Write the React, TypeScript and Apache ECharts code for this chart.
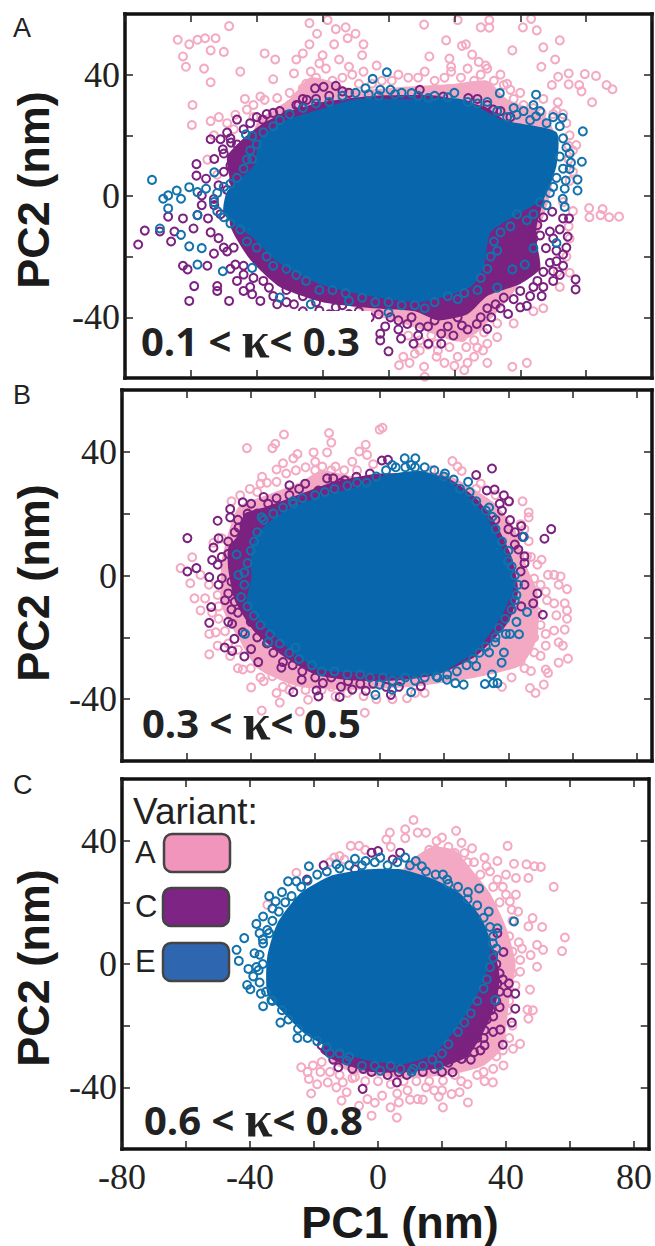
import React, { useEffect, useRef } from "react";
import * as echarts from "echarts";

type P = number[];

const xTicks = [-80, -60, -40, -20, 0, 20, 40, 60, 80];
const xLabels = [-80, -40, 0, 40, 80];
const yTicks = [-40, -20, 0, 20, 40];
const yLabels = [-40, 0, 40];
const kappaLabels = [["0.1", "0.3"], ["0.3", "0.5"], ["0.6", "0.8"]];
const panelLetters = ["A", "B", "C"];
const variants = ["A", "C", "E"];

const coreA_A: P[] = [[-40,24],[-30,32],[-24,39],[-18,38],[-10,35],[5,36],[20,37],[30,38],[36,32],[47,27],[51,19],[49,0],[39,-30],[27,-45],[21,-48],[10,-44],[-10,-37],[-30,-25],[-45,0]];
const coreA_C: P[] = [[-48,4],[-49,13],[-44,19],[-38,24],[-30,28],[-20,31],[-5,33],[15,33],[30,29],[40,20],[48,5],[45,-10],[45,-15],[46,-24],[40,-29],[30,-33],[24,-39],[15,-41],[8,-38],[-5,-37],[-20,-35],[-33,-30],[-42,-21],[-48,-10]];
const coreA_E: P[] = [[-50,-6],[-49,1.5],[-41,10],[-39,19],[-31,25],[-21,28.5],[-10,32],[5,32],[22,32],[35,25],[51,21],[51,10],[47,-1],[41,-5],[31,-12],[29,-23],[25,-30],[10,-35],[-6,-33],[-21,-29],[-34,-21.5],[-41,-14]];
const ringsA_A: P[] = [[-64,51.5],[-60.5,50],[-58,51.5],[-55.7,52],[-52.5,52],[-48.4,56],[-62.4,46],[-61.5,42.6],[-56,42],[-54,48],[-50,47.5],[-45,41],[-54,37.5],[-37.6,47],[-34.4,45],[-35,38.5],[-24,57],[-18.5,58],[-16,55],[-13,55.6],[-21.7,53.5],[-10,53.5],[-12.4,52],[-24,50],[-16.5,50],[-7.6,50],[-26,47],[-20,46.4],[-8,46.4],[-28,45],[-15,45],[-21,43.7],[-12,42.6],[-7.6,41],[-3.6,43],[-28.7,40.4],[-23.6,41],[10.8,56.5],[21,58],[30.6,58],[28,55.6],[30.6,55.5],[40.8,55.6],[43.3,58.4],[45,54.6],[17.5,51.3],[22.3,49.5],[23.5,50],[37.6,48],[47,49],[52,51.3],[12.4,46],[18.5,45.3],[25.4,46.6],[50.6,45],[46.4,42.6],[27.4,44.2],[29.5,43],[19,42.6],[51.5,39.3],[54.7,40.4],[59.6,40.2],[63,39.6],[49.6,36.6],[54.7,36.8],[57.9,36.6],[58.6,34.5],[66.2,36.6],[68,35.2],[61.8,30.9],[51.4,30.9],[60.9,-4],[65,-4.3],[61,-7],[64.4,-6.3],[67,-7],[70,-6.8],[56,-5],[54.7,-10],[54.7,16.5],[57,16.8],[54.7,12],[51.4,-25],[55,-25.3],[30,-48.7],[33,-46.5],[23.6,-49.8],[18.5,-49.8],[9.5,-50.9],[14.6,-53],[21,-53],[26,-53],[4.5,-53],[6.4,-55],[10.8,-56.3],[17,-55],[23,-57.4],[30,-55],[37.6,-56.3],[42,-55],[11,-59.6],[3.2,-55.8],[28.7,-50.9],[22.3,-46.5],[26,-47.6],[9.5,-47.6],[14.6,-48.7],[-46.5,26.8],[-51.5,26],[-54,24.7],[-59.7,23.4],[-59.5,30],[-43,28.5],[-43.6,32],[-38.9,32.8],[-37.6,31.7],[-33.8,32.3],[-30,34],[-26,35.5],[37,35],[40,34],[35,36.6],[51,28],[46.5,27.4],
[-30,30],[-33,28],[-27,33],[-25,37],[-22,39],[-19,42],[-17,38],[-14,39],[-11,40],[-9,37],[-5,37],[-2,38],[1,38],[3,40],[6,39],[9,39],[11,41],[14,38],[17,39],[19,41],[22,39],[24,42],[26,38],[28,40],[30,42],[32,38],[34,40],[36,37],[30,35],[38,32],[41,30],[44,29],[47,32],[50,27],[53,27],[54,24],[55,20],[56,15],[56,8],[55,5],[53,-2],[55,-14],[54,-20],[52,-30],[47,-37],[44,-38],[38,-42],[33,-42],[29,-45],[20,-46],[13,-46],[6,-46],[27,-50],[20,-56],[15,-51],[12,-49],[24,-55],[8,-52],[-41,26],[-47,22],[-49,24],[-53,20],[-55,12],[-52,7],[-41,30]];
const ringsA_C: P[] = [[-76,-16],[-74,-11.4],[-69.4,-11.7],[-66,-15],[-66.9,-6.8],[-62.4,-7.4],[-65,-11.7],[-59.2,-10.7],[-58,-6.3],[-54.8,-7.4],[-62.4,-23],[-61,-24.2],[-55,-23],[-59,-29.7],[-60.5,-34.6],[-52,-29.7],[-52,-31.3],[-48.4,-34.6],[-44,-31.3],[-41.4,-32.4],[-38.9,-34.6],[-33.8,-35.7],[-28.7,-35.7],[-41.4,-53.9],[-2.5,-45.4],[-2.5,-47.6],[0,-51.2],[3.8,-47],[7.6,-48.7],[12.1,-48.7],[16,-48.7],[19.7,-46],[30,-43.8],[26.8,-42.2],[36.3,-38.9],[42,-36.2],[46.5,-33],[56.8,-27.5],[56.8,-30.8],[53,-19.3],[50,-24.8],[45.2,-28],[40,-31.3],[35,-33.5],[54.4,-13.4],[54.8,-7.4],[53,-7.4],[49.7,-5.2],[49,-11.7],[45.2,-9.6],[47.8,-17.2],[42.7,-21.5],[51,-21.5],[-58.3,10.5],[-58.3,6.7],[-55.4,5.7],[-56.7,0.2],[-56.7,-3],[-52.9,-3],[-54,18.7],[-51,18.7],[-49,20.9],[-46,25.2],[-38.2,25.2],[-35,27.4],[-30.6,26.8],[-27.4,30],[-24.8,31.7],[-22.3,35.5],[-19.7,36],[-16,36.3],[-14,34.5],[9.5,35],[16.6,32.8],[24.2,32.3],[31.8,28.5],[-52.9,12.2],[-50.3,15.4],[-47.8,17.6],[-51.6,3.5],[-46.5,-22.6],[-49,-18.3],[-51.6,-13.9],[-44,-25.9],[-36.3,-30.2],[-21,-37.8],[-16,-36.7],[-12,-38.9],[-5.7,-40],[0.6,-40],[5.7,-42.2],[9.5,-43.3],[16,-45.4],[22.3,-42.7],[31.2,-40],[40,-36.7],[32.5,-35.7],
[-50,14],[-48,10],[-50,8],[-47,5],[-49,2],[-46,17],[-48,19],[-44,22],[-42,24],[-40,26],[-37,27],[-33,28],[-28,30],[-26,32],[-22,32],[-18,33],[-12,34],[30,30],[27,32],[34,28],[37,26],[-53,-1],[-51,-6],[-54,-12],[-50,-17],[-53,-19],[-47,-17],[-48,-24],[-44,-23],[-46,-28],[-41,-27],[-42,-30],[-38,-28],[-35,-33],[-31,-31],[-31,-35],[-26,-33],[-26,-38],[-22,-35],[-18,-39],[-14,-36],[-9,-38],[-9,-41],[-3,-39],[-1,-43],[3,-41],[3,-44],[7,-40],[9,-46],[12,-43],[14,-41],[18,-43],[21,-40],[24,-44],[28,-40],[30,-37],[34,-37],[38,-34],[43,-33],[44,-30],[47,-30],[50,-28],[52,-26],[49,-22],[53,-23],[47,-25],[54,-17],[51,-18],[50,-14],[46,-13],[52,-11],[47,-7],[44,-14],[42,-18],[40,-25],[36,-28],[38,-20]];
const ringsA_E: P[] = [[-71.8,5.3],[-68.4,-0.9],[-66.9,0.2],[-64.3,1.8],[-63,-0.9],[-60.5,2.9],[-58,1.3],[-66.9,-4.1],[-69.4,-10.7],[-63,-12.8],[-60.5,-16.6],[-56.7,-17.2],[-58,-22.6],[-58,-6.3],[-55.4,2.4],[-52.9,7.8],[-41.4,12.2],[-41.4,19.8],[-43.3,20.3],[-50.3,-24.8],[-41.4,-23.7],[-33,-33.5],[-23.6,-35.7],[-12,-34.6],[0,-38.4],[-7,35.5],[-4.8,38.6],[-0.5,40.8],[-2.5,35],[0.6,35],[7,33.9],[12.1,32.3],[33.8,33.9],[44.8,33.4],[44,30],[30,31],[38.9,26.8],[44.8,26.3],[52.8,25.8],[59,21.3],[58.7,11.3],[55.4,11],[55,8.9],[53.8,5.1],[57.4,5.4],[57.4,1.8],[53.5,2.4],[52.9,-0.9],[53.5,-3.6],[51,-15.5],[44,-17.2],[37.6,-24.2],[41.4,-22.6],[33,-30.2],
[-30,27],[-26,29],[-22,30.5],[-18,31],[-14,33],[-10,34],[-6,33.5],[-3,33],[2,33.5],[4,34],[9,33],[14,33],[18,32.5],[20,34],[24,31],[27,30.5],[33,28],[36,26],[38,29],[41,28],[43,25],[46,28],[48,24],[50,26],[52,23],[53,19],[54,16],[52,13],[55,14],[53,9],[51,6],[50,3],[49,1],[48,-3],[46,-2],[44,-6],[42,-8],[39,-6],[37,-10],[34,-12],[32,-15],[33,-18],[31,-20],[30,-24],[28,-27],[27,-31],[23,-32],[21,-34],[18,-33],[14,-35],[11,-37],[8,-36],[4,-36],[0,-35],[-4,-35],[-8,-33.5],[-13,-32],[-17,-31],[-21,-31],[-25,-28],[-28,-26],[-31,-24],[-35,-23],[-37,-20],[-40,-17],[-43,-15],[-45,-11],[-48,-9],[-50,-7],[-52,-5],[-53,-2],[-52,1],[-50,3],[-48,4],[-46,6],[-44,9],[-43,12],[-42,15],[-40,17],[-38,21],[-35,23],[-33,25]];

const coreB_A: P[] = [[-49,-10],[-49,5],[-44,22],[-35,26],[-25,30],[-18,34],[-8,32],[5,33],[20,33],[35,24],[42,15],[46,2],[49,-5],[49,-20],[44,-29],[30,-33],[10,-36],[-10,-37],[-25,-36],[-38,-30],[-44,-20]];
const coreB_C: P[] = [[-45,-8],[-47,2],[-47,9],[-44,13],[-42,20],[-36,22],[-28,25],[-15,30],[0,33],[20,32],[30,25],[36,17],[41,6],[43,-5],[40,-15],[30,-26],[18,-32],[5,-34],[-8,-34],[-20,-32],[-30,-26],[-39,-18]];
const coreB_E: P[] = [[-39.9,7.9],[-37.3,14.4],[-29.4,21],[-19,25.4],[-7,28.6],[2,32.5],[12.4,33.9],[20,31.4],[26.8,26.4],[33.3,18.8],[38.6,7.9],[41.8,-3],[38.6,-11.8],[34.6,-18.4],[29.4,-24.9],[19,-31.5],[7.2,-32.6],[-5.9,-31.5],[-19,-30.4],[-28.1,-23.8],[-36,-16.2],[-41.2,-8.5],[-39.9,-0.9]];
const ringsB_A: P[] = [[-41.2,41.2],[-33.3,41.2],[-32.4,42.6],[-29.7,45.6],[-15.7,46.1],[-15,43],[0,47.2],[0.9,47.8],[-4.3,42.3],[-6.3,40.1],[-3.9,39],[-16.3,39.8],[-20.5,39.8],[-25.5,39.3],[-26.8,37.9],[-30,36.3],[-32,34.3],[-20,36.8],[-17.8,35.2],[-13.7,35.2],[-8.5,36.8],[-36.5,31.9],[-32,30.3],[-37,29.7],[-40.3,28],[-43.3,25.9],[22.6,37],[24.2,35.2],[25.5,33.8],[31.4,29.7],[44.4,24],[46.3,20.4],[46.3,18.8],[43.8,16.6],[46.3,11.1],[45.8,6.2],[50.3,5.1],[49,3.5],[52.3,0.2],[56.2,-0.3],[54.2,0.2],[58.2,-4.4],[55.6,-3],[51.6,-5.2],[54.2,-9],[57.5,-9],[58.2,-11.3],[54.9,-12.9],[58.2,-14],[54.2,-17.8],[57.5,-17.5],[51.6,-18.9],[55.6,-21.6],[51.6,-22.7],[56.9,-22.7],[58.5,-26.9],[55.6,-28.2],[51.6,-30.4],[52.3,-31.5],[47,-30.9],[51,-35.3],[46.7,-36.4],[48.4,-38],[43.8,-27.7],[48,-24.9],[45,-16.2],[49,-11.8],[46.4,-7.4],[43.8,-20.5],[-61.8,2.4],[-58.2,5.9],[-58.8,-2.5],[-55.6,0.2],[-57.5,-7.4],[-54.2,-7.4],[-55.6,-11.3],[-50.3,-6.3],[-51.6,10.6],[-52.9,-18.9],[-50.9,-18.4],[-52.9,-25.5],[-50.3,-22.7],[-46.4,-26],[-42.5,-30.4],[-39.9,-36.2],[-36,-34.2],[-33.3,-32.6],[-32,-38],[-31,-41.1],[-36.6,-43.7],[-24.8,-44],[-4.6,-44.4],[-22.2,-40.2],[-13.7,-39.1],[8.5,-39.7],[14,-38],[-28,-37],[-34.6,-30.4],[-39.9,-24.9],[-29.4,-32.6],
[-50,-14],[-48,-18],[-47,-22],[-44,-24],[-44,-30],[-40,-30],[-37,-33],[-30,-36],[-27,-35],[-23,-37],[-18,-37],[-15,-36],[-10,-38],[-5,-39],[-1,-40],[4,-40],[11,-38],[-53,-3],[-50,-10],[-52,-12],[-49,12],[-46,24],[-38,27],[-35,30],[-29,33],[-26,34],[-23,35],[-20,34],[-15,34],[-11,34],[-7,34],[-2,36],[16,34],[30,28],[36,26],[40,24],[45,15],[47,6],[48,-1],[50,-3],[47,-5],[52,-8],[48,-14],[50,-16],[48,-20],[46,-24],[50,-26],[45,-30],[41,-33],[38,-36]];
const ringsB_C: P[] = [[-59.7,12.1],[-50.3,17.7],[-46.4,21.5],[-42.5,23.7],[-36,25.4],[-28,29.2],[-23.1,29.7],[-16.3,31.4],[-14.4,31.4],[-10.8,30.8],[-7.2,31.9],[0.7,37.2],[2.6,37.4],[34.9,34.6],[30,32.5],[33.3,27.5],[35.7,27.8],[38.6,25.9],[40.2,24],[40.5,17.9],[37.3,23.2],[53.3,15],[51.2,11.9],[44.4,12.5],[43.1,8.4],[45,6.2],[45,4],[43.8,1.3],[45,-3],[49,-5.8],[47.7,-9],[50.7,-12.7],[38.6,-9.6],[37.3,-16.2],[-59.7,1.3],[-56.9,2.4],[-52.9,-0.5],[-52.3,-10.2],[-52.9,-15.3],[-45.8,-15.6],[-42.5,-18.4],[-45.1,-20.5],[-48.1,-23.3],[-45.8,-24.4],[-39.9,-23.8],[-42,-26.2],[-37.7,-28],[-30.5,-29.8],[-26.8,-37.7],[-19.6,-37.2],[-19,-39.1],[-12.4,-39.3],[-8.5,-36.9],[-4.3,-37.3],[3.5,-38.6],[12.8,-35.8],[-24.2,-33.7],[-17.6,-34.8],[-9.8,-34.2],[-51.6,9],[-50.3,3.5],[-49,-0.9],[-47,-5.8],[-45,-8.5],[-46.4,18.8],[-43.8,15.5],[-39.9,23.2],[-34.6,23.2],[-21.6,25.4],[-19,27.5],
[-50,12],[-49,6],[-52,5],[-50,-3],[-48,-8],[-46,-11],[-44,-12],[-47,-15],[-47,11],[-45,14],[-44,18],[-41,20],[-38,20],[-42,16],[-32,25],[-28,26],[-25,28],[-12,30],[-3,33],[38,21],[40,15],[42,14],[36,18],[44,16],[42,10],[41,-11],[44,-10],[-40,-15],[-38,-20],[-35,-22],[-33,-25],[-30,-28],[-27,-29],[-24,-31],[-20,-33],[-15,-33],[-12,-36],[-6,-35],[-2,-35],[2,-36],[6,-36],[-46,-2],[-44,1],[-47,7],[-44,6]];
const ringsB_E: P[] = [[7.8,37.9],[11.1,37.9],[3.9,35.7],[9.8,35.7],[20.3,33],[27.5,30.3],[34,22],[44.8,12.5],[39.9,4.6],[42.5,-6.3],[45.8,-11.8],[42.5,-15],[39.2,-18.9],[43.3,-19],[40.5,-18.9],[35.9,-21.6],[38.6,-24.9],[34,-24.9],[37.9,-28.2],[30,-29.3],[34.9,-32],[36.6,-34.8],[32.7,-35.1],[35.3,-34.8],[26.1,-35.3],[23.5,-34.8],[20.9,-33.7],[17.6,-32.6],[9.8,-37.7],[6.5,-34.2],[-1.3,-38.6],[0,-35.3],[3.9,-36.9],[-26.1,-23.3],[-34.6,-21.6],[-41.8,-18.9],[-43.8,0.2],[-44.4,6.8],[-36.6,18.8],[-26.8,23.2],
[-36,18],[-33,20],[-30,22],[-27,24],[-24,25],[-20,26],[-17,27],[-14,28],[-10,29],[-7,30],[-4,30],[-1,32],[2,34],[5,35],[8,35],[11,35],[14,35],[17,34],[20,32],[23,31],[25,28],[28,27],[30,24],[33,21],[35,19],[36,15],[38,11],[40,8],[41,3],[42,0],[43,-3],[42,-8],[41,-11],[39,-14],[37,-17],[36,-20],[33,-23],[31,-25],[29,-27],[27,-29],[24,-31],[21,-32],[18,-33],[14,-33],[11,-34],[8,-33],[4,-34],[1,-33],[-3,-33],[-6,-32],[-10,-32],[-14,-31],[-18,-31],[-21,-29],[-25,-27],[-28,-25],[-31,-22],[-34,-19],[-37,-16],[-39,-13],[-41,-10],[-43,-7],[-42,-3],[-42,1],[-41,4],[-40,8],[-39,11],[-38,14]];

const coreC_A: P[] = [[8,31],[12,35],[17,38],[24,37],[29,31],[35,23],[40,12],[43,0],[41,-12],[39,-27],[33,-33],[22,-36],[8,-37],[-8,-35],[-15,-31],[0,0]];
const coreC_C: P[] = [[30,15],[36,5],[38,-4],[37,-12],[34,-20],[28,-30],[18,-34],[8,-35],[-2,-35],[-12,-32],[-18,-28],[0,0]];
const coreC_E: P[] = [[-34.6,2.4],[-31.4,13.3],[-24.2,23],[-15,28.5],[-3.3,30.7],[7.2,30.7],[17.6,27.4],[25.5,23],[32,15.4],[35.3,6.7],[34,-2],[30.7,-10.7],[24.8,-20.4],[17.6,-29.1],[8.5,-32.4],[-3.3,-31.3],[-13.7,-28],[-22.9,-22.6],[-29.4,-16],[-34.6,-9.6]];
const ringsC_A: P[] = [[11.1,46.7],[8.5,43.7],[3.7,42.6],[2.6,40.4],[8.5,40.8],[12.4,42.6],[15,42.6],[18.3,39.9],[24.4,43.2],[26.1,39.3],[29.4,37.5],[40.5,38.3],[33.3,34.5],[37.3,33.4],[33.9,31.7],[42.5,32.5],[46.4,32.3],[50.9,31.5],[48.9,31.7],[47,27.9],[43.1,27.9],[37.3,27.4],[54.9,25],[40,22.5],[43.1,22.5],[41.2,20.3],[41.8,17.6],[43.8,17],[48.3,14.9],[47,12.2],[51.3,12],[58.4,8.6],[57.5,4.2],[51.6,4.6],[49.7,6.2],[47.7,2.9],[44.4,1.3],[49.7,-0.9],[44.4,-2.5],[47.5,-8.3],[46.7,-14.8],[47,-17.7],[48.4,-15],[40.5,-15],[44.4,-25.9],[42.2,-27.5],[39.2,-32.9],[35.9,-38.4],[33.3,-38],[28.1,-44.9],[25.5,-41.6],[20.3,-46.5],[23,-42.2],[17.6,-41],[12.4,-43.8],[5.9,-49.8],[6.5,-44.9],[3.9,-46.5],[-2,-49.2],[-5.9,-46],[-11.4,-44.3],[-20.9,-42],[-9.8,-41.6],[-15.7,-38.4],[-21.6,-37.3],[-24,-33.5],[-20.3,-32.9],[-17.6,-31.8],[-3.3,-43.8],[1.3,-42.7],[9.2,-41],[15,-40],[20.3,-37.8],[-11,-38.4],[-7.2,-36.7],[-8.5,38.3],[-5.9,38.3],[-13.7,34.5],[-10.5,33.9],[-25.5,29.6],[-34.6,19.2],
[14,34],[16,37],[18,37],[20,41],[22,38],[24,36],[27,36],[28,33],[30,33],[32,29],[35,30],[36,25],[39,25],[40,29],[38,20],[42,14],[41,9],[44,7],[42,4],[45,5],[42,-3],[43,-7],[41,-12],[42,-20],[41,-24],[39,-28],[37,-30],[36,-34],[31,-36],[28,-39],[24,-36],[20,-41],[16,-38],[12,-38],[8,-38],[4,-39],[0,-38],[-4,-38],[-8,-37],[-12,-36],[-15,-35],[-18,-35],[-13,-40],[-22,-35],[-19,-39],[6,-42],[-1,-45],[10,-44],[14,-44],[19,-43],[26,-38],[33,-35],[-12,35],[-15,33],[-4,37],[4,38]];
const ringsC_C: P[] = [[0,36.6],[-2,36.1],[6.9,36.1],[4.6,33.9],[-17,32],[-7.2,30.7],[-22.2,27.4],[39.2,3.9],[37.3,10],[40.9,-6.3],[42.9,-9.6],[40.5,-9.3],[42.9,-14.5],[41.8,-19],[38.2,-21.3],[39,-26.2],[33.3,-26.4],[30,-28.6],[26.1,-30.8],[23.3,-35.1],[17.6,-34],[5.9,-38.4],[-4.8,-40.5],[-4.6,-34],[-12.4,-33.5],[-17.6,-26.4],[35.9,-2],[37.3,-6.3],[35.3,-15],[33.3,-21.5],[28.1,-23.7],[24.2,-28],[11.1,-33.5],[6.5,-35.1],[-2,-32.4],
[36,3],[37,0],[38,-3],[39,-5],[38,-9],[36,-7],[37,-12],[38,-14],[36,-17],[34,-18],[36,-22],[33,-24],[31,-24],[32,-28],[29,-31],[26,-27],[22,-32],[20,-35],[14,-35],[9,-36],[3,-36],[-2,-35],[-8,-34],[-14,-31]];
const ringsC_E: P[] = [[-41.8,8.4],[-44.2,4.6],[-43.5,1],[-40.5,-1.6],[-38.6,3.5],[-40.9,-6.8],[-39.9,-8.2],[-36.6,-9.6],[-35.9,-13.7],[-30.5,-19],[-25.2,-24],[-35.9,15.4],[-34,22],[-32,20.3],[-30,23.3],[-28.1,26.8],[-25.5,26.8],[-21.6,31.7],[-13,32.3],[-7.2,34.1],[-3.9,33.4],[0.7,34.5],[8.5,34.5],[11.8,33.4],[13.7,31.7],[20.3,29],[21.6,27.4],[31.6,24.5],[28.1,23.3],[34.6,17],[37.3,11.6],[42.5,13.8],[35.9,6.7],[36.6,-11.7],[19,-33],[10.5,-35],[0.7,-34.6],[-9.8,-31.3],[-15,-29],[-34.6,11],[-35.9,6.7],[-37.3,-2],[-33.3,-11.7],
[-36,0],[-37,3],[-36,8],[-34,10],[-33,14],[-31,17],[-29,20],[-27,22],[-24,25],[-22,27],[-19,29],[-16,30],[-12,31],[-9,32],[-5,32],[-1,33],[3,32],[6,33],[10,32],[15,30],[18,29],[22,26],[25,25],[28,21],[31,19],[33,15],[35,12],[36,9],[37,5],[36,2],[35,-1],[34,-5],[33,-8],[31,-12],[29,-16],[27,-19],[25,-22],[22,-26],[20,-29],[17,-31],[14,-33],[11,-34],[7,-34],[4,-33],[-1,-33],[-5,-33],[-9,-30],[-12,-29],[-16,-27],[-19,-25],[-22,-24],[-25,-21],[-28,-18],[-30,-15],[-33,-12],[-35,-9],[-37,-6],[-38,-1],[-39,-4],[-37,10],[-38,13],[-33,18]];

const cores = [[coreA_A, coreA_C, coreA_E], [coreB_A, coreB_C, coreB_E], [coreC_A, coreC_C, coreC_E]];
const rings = [[ringsA_A, ringsA_C, ringsA_E], [ringsB_A, ringsB_C, ringsB_E], [ringsC_A, ringsC_C, ringsC_E]];

const coreColors = ["#F3A9C3", "#7B2180", "#0866AD"];
const ringColors = ["#F4A9C2", "#7B2180", "#1272AC"];
const swatchColors = ["#F295BC", "#7E2484", "#2F66B0"];

const layout = [
  { left: 125, top: 14, width: 527, height: 364, xMax: 80, titleY: 190, letterY: 28, kappaX: 141, kappaY: 340 },
  { left: 122, top: 390, width: 530, height: 371, xMax: 84.6, titleY: 583, letterY: 395, kappaX: 142, kappaY: 722 },
  { left: 122, top: 779, width: 530, height: 370, xMax: 84.6, titleY: 968, letterY: 785, kappaX: 144, kappaY: 1119 },
];

const serif = "'Liberation Serif', 'Times New Roman', serif";
const sans = "'Liberation Sans', Arial, sans-serif";

export default function App() {
  const ref = useRef<HTMLDivElement>(null);
  useEffect(() => {
    document.body.style.margin = "0";
    const chart = echarts.init(ref.current!, undefined, { renderer: "svg" });
    const grid: any[] = [];
    const xAxis: any[] = [];
    const yAxis: any[] = [];
    const series: any[] = [];
    const graphic: any[] = [];
    const line = { show: true, onZero: false, lineStyle: { color: "#111", width: 3.5, cap: "square" } };
    const tick = (vals: number[]) => ({ show: true, inside: true, length: 8, customValues: vals, lineStyle: { color: "#222", width: 1.5 } });
    const labelStyle = { fontFamily: serif, fontSize: 36, fontWeight: "normal", color: "#222" };

    layout.forEach((g, i) => {
      grid.push({ left: g.left, top: g.top, width: g.width, height: g.height, show: false });
      const showX = i === 2;
      ["bottom", "top"].forEach((pos, j) => {
        xAxis.push({
          type: "value", gridIndex: i, position: pos, min: -80, max: g.xMax, z: 10,
          splitLine: { show: false }, axisLine: line, axisTick: tick(xTicks),
          axisLabel: showX && j === 0 ? { show: true, customValues: xLabels, margin: 10, ...labelStyle } : { show: false },
        });
      });
      ["left", "right"].forEach((pos, j) => {
        yAxis.push({
          type: "value", gridIndex: i, position: pos, min: -60, max: 60, z: 10,
          splitLine: { show: false }, axisLine: line, axisTick: tick(yTicks),
          axisLabel: j === 0 ? { show: true, customValues: yLabels, margin: 5, ...labelStyle } : { show: false },
        });
      });
      const xi = i * 2;
      const yi = i * 2;
      variants.forEach((v, k) => {
        const poly = cores[i][k];
        series.push({
          type: "custom", name: v, xAxisIndex: xi, yAxisIndex: yi, z: 3 + k * 2, silent: true, data: [[0, 0]],
          renderItem: (_p: any, api: any) => ({
            type: "polygon",
            shape: { points: poly.map((p) => api.coord(p)), smooth: 0.2 },
            style: { fill: coreColors[k] },
          }),
        });
        series.push({
          type: "scatter", name: v, xAxisIndex: xi, yAxisIndex: yi, z: 4 + k * 2, silent: true, data: rings[i][k],
          symbol: "circle", symbolSize: 8,
          itemStyle: { color: "transparent", borderColor: ringColors[k], borderWidth: 2, opacity: 1 },
        });
      });

      graphic.push({ type: "text", x: 13, y: g.letterY, z: 101, style: { text: panelLetters[i], fontFamily: sans, fontSize: 27, fill: "#222", verticalAlign: "middle" } });
      graphic.push({ type: "text", x: 33, y: g.titleY, rotation: Math.PI / 2, z: 101, style: { text: "PC2 (nm)", fontFamily: sans, fontWeight: "bold", fontSize: 45, fill: "#1a1a1a", align: "center", verticalAlign: "middle" } });
      graphic.push({
        type: "text", x: g.kappaX, y: g.kappaY, z: 101,
        style: {
          text: `{a|${kappaLabels[i][0]} < }{k|κ}{a|< ${kappaLabels[i][1]}}`,
          verticalAlign: "middle",
          rich: {
            a: { fontFamily: "'Open Sans'", fontWeight: "bold", fontSize: 40, fill: "#222" },
            k: { fontFamily: serif, fontWeight: "bold", fontSize: 50, fill: "#222" },
          },
        },
      });
    });

    graphic.push({ type: "rect", z: 100, shape: { x: 138, y: 311, width: 233, height: 59 }, style: { fill: "#fff" } });
    graphic.push({ type: "text", x: 400, y: 1222, z: 101, style: { text: "PC1 (nm)", fontFamily: sans, fontWeight: "bold", fontSize: 45, fill: "#1a1a1a", align: "center", verticalAlign: "middle" } });
    graphic.push({ type: "text", x: 133, y: 811, z: 101, style: { text: "Variant:", fontFamily: sans, fontSize: 37, fill: "#222", verticalAlign: "middle" } });
    const swatches = [[164, 834], [163, 888], [163, 943]];
    variants.forEach((v, k) => {
      graphic.push({ type: "rect", z: 101, shape: { x: swatches[k][0], y: swatches[k][1], width: 66, height: 38, r: 8 }, style: { fill: swatchColors[k], stroke: "#444", lineWidth: 2.5 } });
      graphic.push({ type: "text", x: 135, y: swatches[k][1] + 18, z: 101, style: { text: v, fontFamily: sans, fontSize: 31, fill: "#222", verticalAlign: "middle" } });
    });

    chart.setOption({ animation: false, textStyle: { fontFamily: serif }, grid, xAxis, yAxis, series, graphic });
    return () => chart.dispose();
  }, []);
  return <div ref={ref} style={{ position: "absolute", left: 0, top: 0, width: 655, height: 1246, background: "#fff" }} />;
}
